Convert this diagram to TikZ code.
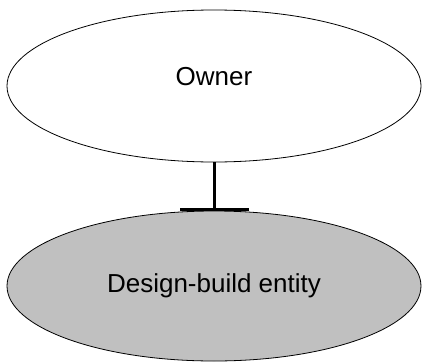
\documentclass[tikz,border=0pt]{standalone}
\usepackage{fontspec}
\setmainfont{Liberation Sans}
\usetikzlibrary{shapes.geometric,arrows.meta}
\definecolor{entitygray}{RGB}{192,192,192}
\begin{document}
\begin{tikzpicture}[x=1pt, y=-1pt,
    party/.style={ellipse, draw, line width=0.8pt, minimum width=414pt, inner sep=0pt, font=\fontsize{26}{30}\selectfont},
    link/.style={line width=3pt, -{Bar[width=69pt]}}]
  \useasboundingbox (0,0) rectangle (423,362);
  \node (owner) [party, minimum height=152pt, label={[yshift=9pt, font=\fontsize{26}{30}\selectfont]center:Owner}] at (214,86) {};
  \node (dbe) [party, minimum height=150pt, fill=entitygray] at (214,286) {Design-build entity};
  \draw [link] (owner) -- (dbe);
\end{tikzpicture}
\end{document}
